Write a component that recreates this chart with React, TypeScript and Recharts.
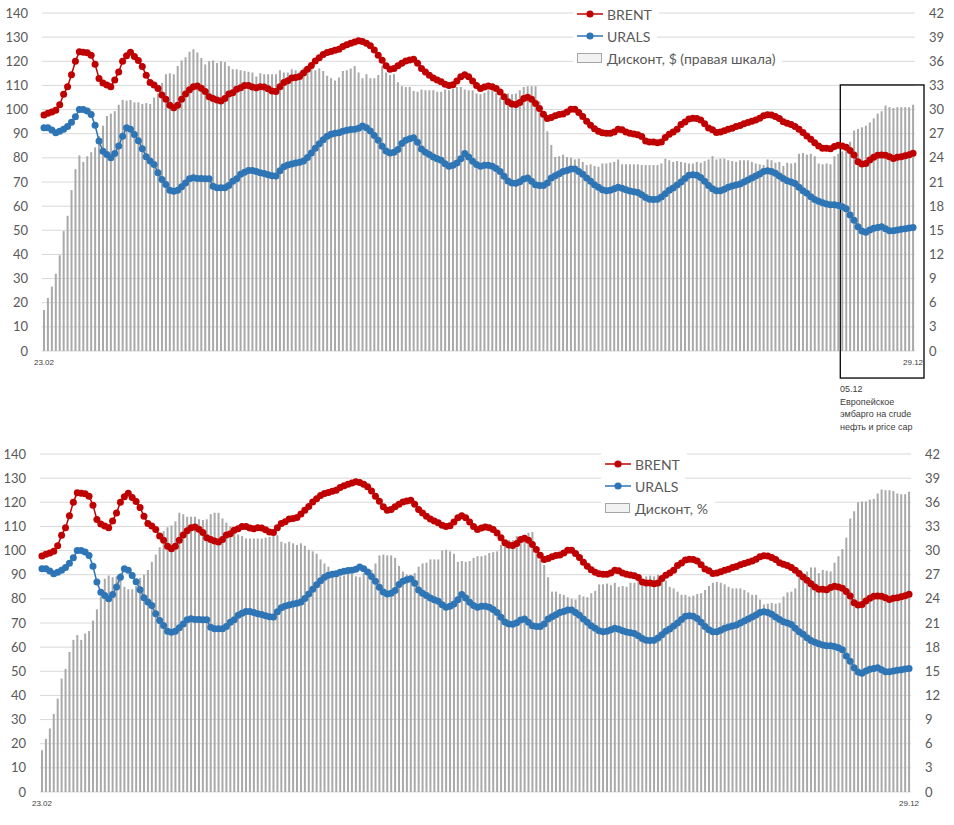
import React from 'react'
import {
  ComposedChart,
  Bar,
  Line,
  XAxis,
  YAxis,
  CartesianGrid,
  Legend,
  ReferenceArea,
} from 'recharts'

// trading days 23.02.2022 – 29.12.2022 (dd.mm)
function tradingDays(): string[] {
  const out: string[] = []
  const d = new Date(Date.UTC(2022, 1, 23))
  const end = Date.UTC(2022, 11, 29)
  while (d.getTime() <= end) {
    const wd = d.getUTCDay()
    if (wd !== 0 && wd !== 6) {
      const dd = String(d.getUTCDate()).padStart(2, '0')
      const mm = String(d.getUTCMonth() + 1).padStart(2, '0')
      out.push(`${dd}.${mm}`)
    }
    d.setUTCDate(d.getUTCDate() + 1)
  }
  return out
}

const dates = tradingDays()

const brent = [
  97.8, 98.5, 99, 99.7, 102, 106.3, 109.5, 114.4, 120, 124,
  123.7, 123.5, 122.5, 118.8, 112.9, 111, 110.2, 109.5, 112.3, 115.6,
  120, 122.3, 123.7, 122, 120.3, 117.8, 114.2, 111.2, 110.2, 108.7,
  106, 104.3, 101.8, 100.8, 101.8, 104.3, 106.4, 108.2, 109.5, 109.8,
  108.8, 107.5, 105.3, 104.6, 104, 103.6, 104.6, 106.4, 107, 108.4,
  109, 110, 110, 109.3, 109, 109.5, 109.4, 108.6, 107.7, 107.5,
  109.5, 111.2, 111.9, 113.1, 113.3, 113.7, 115.1, 116.7, 118.3, 120.1,
  121.5, 122.8, 123.6, 124.1, 124.6, 125, 126.1, 126.9, 127.5, 128,
  128.5, 128.2, 127.5, 126.4, 124.7, 122.5, 120.4, 118.1, 116.7, 117,
  118.1, 119.2, 120.1, 120.5, 120.8, 119.2, 117, 115.6, 114.2, 113.1,
  112.3, 111.5, 110.5, 110, 110.3, 111.8, 113.6, 114.4, 113.6, 111.8,
  110, 108.7, 109.3, 109.8, 109.5, 108.7, 107.3, 105.3, 103.2, 102.3,
  102.1, 102.9, 104.6, 105.1, 104.3, 102.5, 100.4, 98.1, 96.3, 96.7,
  97.4, 98, 98.2, 99, 100.1, 100.1, 98.8, 97.1, 95.2, 93.5,
  92.1, 91, 90.4, 90.2, 90.2, 90.7, 91.8, 91.6, 90.7, 90.2,
  89.9, 89.6, 88.8, 87, 86.6, 86.6, 86.3, 86.6, 88.4, 89.8,
  90.7, 91.8, 93.8, 94.9, 96.1, 96.4, 96.3, 95.7, 94.1, 92.4,
  91.6, 90.5, 90.7, 91.2, 91.8, 92.3, 93, 93.4, 94.1, 94.6,
  95.2, 95.7, 96.4, 97.4, 97.9, 97.7, 97.1, 96.3, 95, 94.3,
  93.8, 93, 91.8, 90.5, 89.1, 87.7, 86.3, 84.9, 84, 84,
  83.8, 84.7, 85.2, 84.9, 84.4, 83, 81.2, 78.4, 77.5, 77.7,
  79.1, 80.2, 81.1, 81.2, 81.1, 80.5, 79.7, 80.2, 80.5, 80.9,
  81.3, 81.9,
]

const urals = [
  92.5, 92.5, 91.5, 90.4, 91, 91.8, 93, 94.8, 97, 100,
  100, 99.4, 98, 93.5, 87, 82.7, 81.4, 80, 81.8, 84.9,
  89, 92.5, 91.8, 89.7, 87.1, 83.8, 80.5, 78.7, 77.3, 73.8,
  71, 69, 66.6, 66.2, 66.6, 68, 69.6, 71.3, 71.8, 71.5,
  71.5, 71.3, 71.3, 68.2, 67.6, 67.6, 67.6, 68.6, 70.3, 71.3,
  73.2, 74, 74.8, 74.8, 74.4, 73.8, 73.5, 73, 72.6, 72.5,
  74.7, 76.3, 77, 77.5, 77.9, 78.2, 78.7, 80.1, 82, 84,
  85.8, 87.5, 88.9, 89.8, 90.2, 90.4, 91, 91.4, 91.7, 91.9,
  92.3, 93.2, 92.5, 91.1, 89.3, 87.3, 84.8, 82.8, 82, 82.3,
  83.5, 85.9, 87.3, 87.9, 88.3, 86.5, 83.7, 82.3, 81.4, 80.4,
  79.6, 79, 77.6, 76.5, 76.9, 77.9, 79.6, 81.8, 80.4, 78.6,
  77.2, 76.5, 76.9, 76.9, 76.5, 75.6, 74.4, 72.4, 70.4, 69.6,
  69.5, 70.1, 71.2, 71.7, 70.3, 68.9, 68.5, 68.6, 69.6, 71.7,
  72.6, 73.4, 74.3, 74.8, 75.4, 75.4, 74.4, 73.2, 71.7, 70.3,
  68.9, 67.8, 66.8, 66.4, 66.6, 67.2, 67.8, 67.4, 66.8, 66.3,
  66, 65.7, 64.7, 63.6, 62.9, 62.7, 62.9, 63.8, 65.1, 66.6,
  67.5, 68.8, 70, 71.5, 72.8, 73, 72.8, 71.9, 70.3, 68.6,
  67.2, 66.4, 66.4, 67, 67.8, 68.3, 68.8, 69.2, 70, 70.8,
  71.7, 72.5, 73.3, 74.4, 74.7, 74.4, 73.6, 72.5, 71.4, 70.5,
  70, 69.4, 67.8, 66.4, 65.3, 63.9, 62.8, 62, 61.4, 60.9,
  60.6, 60.6, 60.3, 59.8, 58.9, 56.3, 54.2, 51.5, 49.7, 49.2,
  50.1, 50.8, 51.2, 51.5, 50.6, 49.8, 49.8, 50.1, 50.4, 50.6,
  50.9, 51.2,
]

// дисконт, $ (правая шкала)
const discountUsd = [
  5.1, 6.6, 8.0, 9.6, 11.9, 14.9, 16.8, 20.0, 22.6, 24.3,
  23.5, 24.2, 24.7, 25.3, 26.7, 28.0, 29.2, 29.5, 29.8, 30.6,
  31.2, 31.1, 31.2, 30.9, 30.9, 30.7, 30.8, 30.7, 31.5, 32.0,
  33.3, 34.4, 34.5, 34.4, 35.4, 36.1, 36.5, 37.2, 37.5, 37.1,
  36.4, 35.6, 36.0, 36.1, 35.8, 36.0, 35.9, 35.4, 35.0, 35.0,
  34.9, 34.8, 34.7, 34.6, 34.1, 34.5, 34.4, 34.4, 34.4, 34.4,
  34.9, 34.6, 34.6, 35.0, 34.9, 34.7, 35.2, 35.4, 35.1, 34.9,
  35.1, 34.8, 34.2, 33.9, 33.6, 34.0, 34.8, 34.9, 35.1, 35.4,
  34.6, 33.9, 34.4, 33.9, 33.9, 34.3, 35.4, 34.6, 34.3, 34.4,
  33.4, 32.9, 32.8, 32.8, 32.3, 32.2, 32.5, 32.4, 32.4, 32.4,
  32.2, 32.2, 32.5, 32.4, 32.6, 32.8, 32.8, 32.5, 32.4, 32.4,
  32.0, 31.9, 32.1, 32.4, 32.4, 32.1, 31.5, 31.8, 32.0, 31.9,
  32.0, 32.4, 32.8, 32.9, 32.9, 32.9, 31.0, 29.3, 27.3, 25.6,
  24.1, 24.2, 24.4, 24.1, 24.0, 23.8, 23.9, 23.5, 23.1, 23.2,
  23.0, 22.9, 23.3, 23.3, 23.4, 23.5, 23.8, 23.2, 23.2, 23.2,
  23.2, 23.2, 23.1, 23.1, 23.1, 23.1, 23.1, 23.3, 23.9, 23.7,
  23.5, 23.6, 23.5, 23.4, 23.3, 23.3, 23.5, 23.4, 23.6, 23.8,
  24.2, 23.8, 23.9, 23.9, 23.7, 23.6, 23.5, 23.7, 23.7, 23.7,
  23.5, 23.3, 23.2, 23.1, 23.8, 23.7, 23.4, 23.5, 23.0, 23.4,
  23.3, 23.4, 24.5, 24.6, 24.4, 24.5, 24.2, 23.3, 23.2, 23.3,
  23.2, 24.2, 24.5, 24.8, 25.4, 26.0, 27.4, 27.6, 27.8, 28.0,
  28.4, 28.9, 29.5, 29.8, 30.5, 30.3, 30.2, 30.3, 30.3, 30.3,
  30.3, 30.6,
]

// дисконт, %
const discountPct = [
  5.2, 6.6, 7.9, 9.7, 11.6, 14.1, 15.3, 17.4, 18.9, 19.5,
  18.9, 19.7, 20.0, 21.3, 22.7, 24.3, 26.5, 26.9, 26.7, 26.8,
  27.2, 25.5, 25.2, 25.2, 25.6, 26.6, 27.0, 27.6, 28.6, 29.5,
  30.4, 32.4, 32.9, 33.1, 33.6, 34.7, 34.5, 34.2, 34.2, 34.2,
  33.9, 33.8, 33.9, 34.5, 34.7, 34.7, 34.0, 33.5, 33.0, 32.6,
  32.0, 31.8, 31.5, 31.5, 31.5, 31.5, 31.5, 31.6, 31.7, 31.8,
  31.9, 31.1, 30.9, 31.1, 30.9, 30.7, 30.9, 30.6, 30.1, 29.9,
  29.6, 28.9, 28.4, 28.0, 27.4, 27.0, 26.8, 26.9, 27.3, 27.1,
  26.8, 26.7, 27.2, 27.4, 27.6, 28.4, 29.4, 29.5, 29.4, 29.4,
  29.1, 28.1, 27.4, 27.0, 26.9, 27.2, 28.0, 28.4, 28.5, 28.9,
  28.9, 28.9, 30.0, 30.1, 29.9, 29.6, 28.6, 28.7, 28.6, 28.7,
  29.1, 29.3, 29.3, 29.4, 29.7, 29.8, 29.9, 30.7, 31.3, 31.3,
  31.3, 31.8, 31.7, 31.8, 32.2, 32.3, 29.7, 28.9, 28.2, 26.7,
  24.9, 24.9, 24.6, 24.5, 24.2, 24.0, 23.9, 24.5, 24.3, 24.2,
  24.7, 25.0, 25.8, 25.8, 25.9, 25.7, 26.0, 25.5, 25.6, 25.5,
  26.0, 26.0, 26.3, 26.4, 26.8, 26.9, 26.8, 27.0, 26.7, 26.3,
  25.5, 25.3, 24.9, 24.5, 24.5, 24.3, 24.4, 24.6, 24.7, 25.1,
  25.6, 26.0, 26.1, 26.0, 25.8, 25.5, 25.3, 25.3, 25.3, 25.1,
  24.8, 24.5, 24.5, 23.9, 23.3, 23.4, 23.5, 23.4, 23.5, 24.3,
  24.8, 24.9, 25.3, 26.9, 27.0, 27.4, 27.9, 27.9, 27.2, 27.6,
  27.5, 27.4, 28.5, 29.3, 30.2, 31.6, 34.0, 34.9, 36.0, 36.1,
  36.1, 36.3, 36.4, 37.1, 37.6, 37.5, 37.5, 37.4, 37.1, 37.0,
  37.0, 37.3,
]

const leftTicks = [0, 10, 20, 30, 40, 50, 60, 70, 80, 90, 100, 110, 120, 130, 140]
const rightTicks = [0, 3, 6, 9, 12, 15, 18, 21, 24, 27, 30, 33, 36, 39, 42]
const xTicks = [dates[0], dates[dates.length - 1]]

const embargoStart = '05.12'
const embargoNote = ['05.12', 'Европейское', 'эмбарго на crude', 'нефть и price cap']

const BRENT_COLOR = '#c00000'
const URALS_COLOR = '#2e75b6'
const BAR_COLOR = '#a9a9a9'
const FONT = 'Lato, "Noto Sans", sans-serif'

const data = brent.map((b, i) => ({
  date: dates[i],
  brent: b,
  urals: urals[i],
  usd: discountUsd[i],
  pct: discountPct[i],
}))

type LegendRow = { name: string; kind: 'line' | 'box'; color: string }

function LegendBox({ rows }: { rows: LegendRow[] }) {
  return (
    <div style={{ display: 'flex', flexDirection: 'column', fontFamily: FONT, fontSize: 14, color: '#595959' }}>
      {rows.map(r => (
        <div
          key={r.name}
          style={{
            display: 'flex',
            alignItems: 'center',
            height: 22,
            background: '#fff',
            padding: '0 7px 0 4px',
            alignSelf: 'flex-start',
            whiteSpace: 'nowrap',
          }}
        >
          <svg width={26} height={12} style={{ flex: 'none' }}>
            {r.kind === 'line' ? (
              <>
                <line x1={0} y1={6} x2={26} y2={6} stroke={r.color} strokeWidth={1.5} />
                <circle cx={13} cy={6} r={3.6} fill={r.color} />
              </>
            ) : (
              <rect x={0.5} y={1.5} width={24} height={9} fill="#f2f2f2" stroke={r.color} strokeWidth={1} />
            )}
          </svg>
          <span style={{ marginLeft: 4 }}>{r.name}</span>
        </div>
      ))}
    </div>
  )
}

function OilChart({
  barKey,
  leftWidth,
  rightWidth,
  legendRows,
  legendLeft,
  legendTop,
  showEmbargo,
}: {
  barKey: 'usd' | 'pct'
  leftWidth: number
  rightWidth: number
  legendRows: LegendRow[]
  legendLeft: number
  legendTop: number
  showEmbargo?: boolean
}) {
  const tickStyle = { fontSize: 13, fill: '#595959', fontFamily: FONT }
  return (
    <ComposedChart
      width={954}
      height={381}
      data={data}
      margin={{ top: 13, right: 0, bottom: 0, left: 0 }}
      barCategoryGap={0}
    >
      <CartesianGrid vertical={false} stroke="#d9d9d9" yAxisId="left" />
      <XAxis
        dataKey="date"
        ticks={xTicks}
        interval={0}
        tickLine={false}
        axisLine={false}
        tickMargin={2}
        height={30}
        tick={{ fontSize: 8, fill: '#404040', fontFamily: '"Liberation Sans", Arial, sans-serif' }}
      />
      <YAxis
        yAxisId="left"
        orientation="left"
        width={leftWidth}
        domain={[0, 140]}
        ticks={leftTicks}
        interval={0}
        tickLine={false}
        axisLine={false}
        tickMargin={8}
        tick={tickStyle}
      />
      <YAxis
        yAxisId="right"
        orientation="right"
        width={rightWidth}
        domain={[0, 42]}
        ticks={rightTicks}
        interval={0}
        tickLine={false}
        axisLine={false}
        tickMargin={8}
        tick={tickStyle}
      />
      <Legend
        layout="vertical"
        align="center"
        verticalAlign="middle"
        wrapperStyle={{ left: legendLeft, top: legendTop, width: 260 }}
        content={() => <LegendBox rows={legendRows} />}
      />
      <Bar yAxisId="right" dataKey={barKey} fill={BAR_COLOR} barSize={2} isAnimationActive={false} />
      <Line
        yAxisId="left"
        dataKey="brent"
        stroke={BRENT_COLOR}
        strokeWidth={1.5}
        dot={{ r: 3.5, fill: BRENT_COLOR, stroke: BRENT_COLOR, strokeWidth: 0 }}
        activeDot={false}
        isAnimationActive={false}
      />
      <Line
        yAxisId="left"
        dataKey="urals"
        stroke={URALS_COLOR}
        strokeWidth={1.5}
        dot={{ r: 3.5, fill: URALS_COLOR, stroke: URALS_COLOR, strokeWidth: 0 }}
        activeDot={false}
        isAnimationActive={false}
      />
      {showEmbargo && (
        <ReferenceArea
          yAxisId="left"
          x1={embargoStart}
          x2={dates[dates.length - 1]}
          y1={-11.2}
          y2={110.2}
          ifOverflow="visible"
          shape={(p: any) => (
            <rect x={p.x} y={p.y} width={p.width + 9} height={p.height} fill="none" stroke="#000" strokeWidth={1.3} />
          )}
        />
      )}
    </ComposedChart>
  )
}

export default function App() {
  return (
    <div style={{ position: 'absolute', left: 0, top: 0, width: 954, height: 825, background: '#fff', overflow: 'hidden' }}>
      <div style={{ position: 'absolute', left: 0, top: 0 }}>
        <OilChart
          barKey="usd"
          leftWidth={42}
          rightWidth={39}
          legendLeft={573}
          legendTop={3}
          showEmbargo
          legendRows={[
            { name: 'BRENT', kind: 'line', color: BRENT_COLOR },
            { name: 'URALS', kind: 'line', color: URALS_COLOR },
            { name: 'Дисконт, $ (правая шкала)', kind: 'box', color: '#a5a5a5' },
          ]}
        />
      </div>
      <div
        style={{
          position: 'absolute',
          left: 840,
          top: 383,
          fontFamily: '"Liberation Sans", Arial, sans-serif',
          fontSize: 9,
          lineHeight: '12.6px',
          color: '#404040',
          whiteSpace: 'nowrap',
        }}
      >
        {embargoNote.map(t => (
          <div key={t}>{t}</div>
        ))}
      </div>
      <div style={{ position: 'absolute', left: 0, top: 441 }}>
        <OilChart
          barKey="pct"
          leftWidth={40}
          rightWidth={43}
          legendLeft={601}
          legendTop={12}
          legendRows={[
            { name: 'BRENT', kind: 'line', color: BRENT_COLOR },
            { name: 'URALS', kind: 'line', color: URALS_COLOR },
            { name: 'Дисконт, %', kind: 'box', color: '#a5a5a5' },
          ]}
        />
      </div>
    </div>
  )
}
